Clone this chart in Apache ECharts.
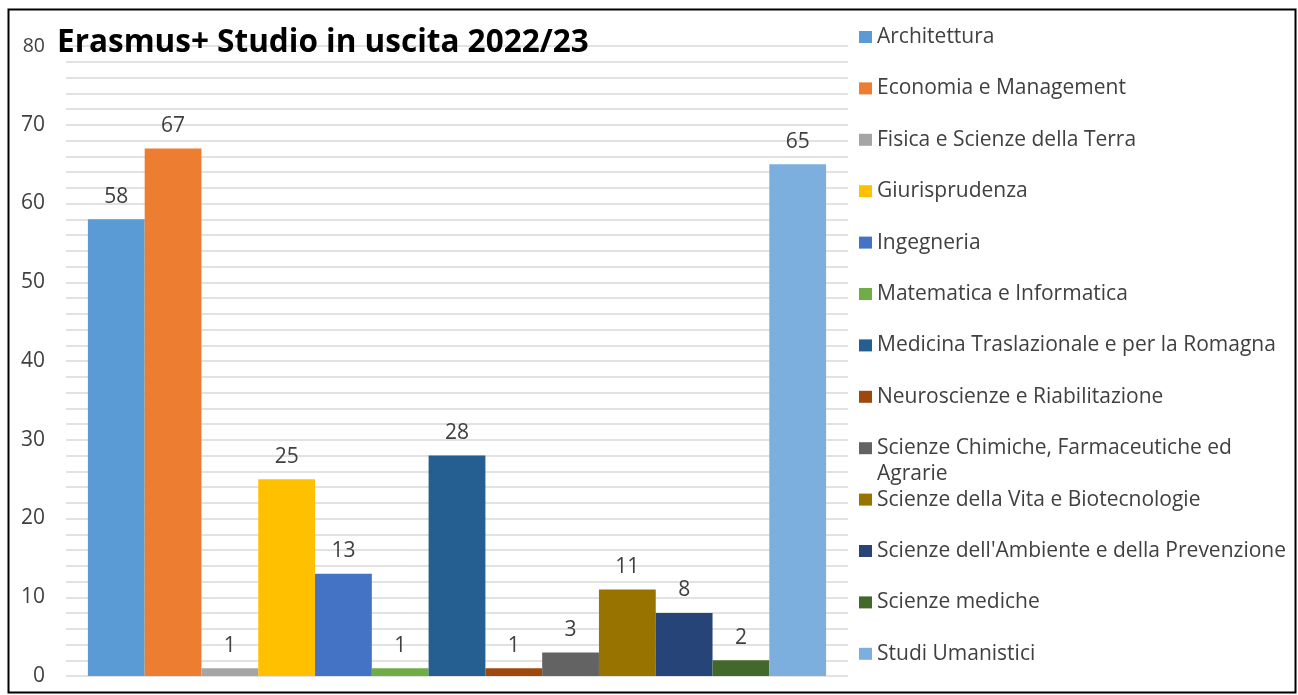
<!DOCTYPE html>
<html>
<head>
<meta charset="utf-8">
<style>
  html, body { margin: 0; padding: 0; background: #fff; }
  #container { width: 1298px; height: 695px; }
</style>
<script src="https://cdn.jsdelivr.net/npm/echarts@6/dist/echarts.min.js"></script>
</head>
<body>
<div id="container"></div>
<script>
var dipartimenti = [
  'Architettura',
  'Economia e Management',
  'Fisica e Scienze della Terra',
  'Giurisprudenza',
  'Ingegneria',
  'Matematica e Informatica',
  'Medicina Traslazionale e per la Romagna',
  'Neuroscienze e Riabilitazione',
  'Scienze Chimiche, Farmaceutiche ed Agrarie',
  'Scienze della Vita e Biotecnologie',
  "Scienze dell'Ambiente e della Prevenzione",
  'Scienze mediche',
  'Studi Umanistici'
];
var studenti = [58, 67, 1, 25, 13, 1, 28, 1, 3, 11, 8, 2, 65];
var colori = [
  '#5B9BD5', '#ED7D31', '#A5A5A5', '#FFC000', '#4472C4', '#70AD47',
  '#255E91', '#9E480E', '#636363', '#997300', '#264478', '#43682B', '#7CAFDD'
];
var yMax = 80;
var yStep = 10;

var dom = document.getElementById('container');
var myChart = echarts.init(dom, null, { renderer: 'canvas' });

var fontFam = '"Open Sans", "Noto Sans", sans-serif';

var series = dipartimenti.map(function (name, i) {
  return {
    name: name,
    type: 'bar',
    barGap: 0,
    barCategoryGap: '5.6%',
    itemStyle: { color: colori[i] },
    label: {
      show: true,
      position: 'top',
      distance: 12,
      color: '#404040',
      fontSize: 21,
      fontFamily: fontFam
    },
    data: [studenti[i]]
  };
});

var option = {
  color: colori,
  animation: false,
  title: {
    text: 'Erasmus+ Studio in uscita 2022/23',
    left: 52,
    top: 22,
    textStyle: {
      fontSize: 31.5,
      fontWeight: 'bold',
      color: '#000',
      fontFamily: fontFam
    }
  },
  legend: {
    orient: 'vertical',
    left: 859,
    top: 26,
    padding: 0,
    itemWidth: 13,
    itemHeight: 12,
    itemGap: 29.4,
    icon: 'rect',
    formatter: function (name) {
      // the long name wraps: its second line is drawn below as a graphic
      if (name.indexOf('Agrarie') >= 0) {
        return 'Scienze Chimiche, Farmaceutiche ed';
      }
      return name;
    },
    textStyle: {
      color: '#404040',
      fontSize: 21,
      fontFamily: fontFam,
      lineHeight: 22
    },
    data: dipartimenti
  },
  grid: {
    left: 66,
    right: 450,
    top: 46,
    bottom: 19,
    containLabel: false
  },
  xAxis: {
    type: 'category',
    data: [''],
    axisLine: { show: false },
    axisTick: { show: false },
    axisLabel: { show: false }
  },
  yAxis: {
    type: 'value',
    min: 0,
    max: yMax,
    interval: yStep,
    axisLine: { show: false },
    axisTick: { show: false },
    axisLabel: {
      margin: 21,
      color: '#404040',
      fontSize: 21,
      fontFamily: fontFam,
      formatter: function (v) {
        return v === yMax ? '{s|' + v + '}' : String(v);
      },
      rich: {
        s: { fontSize: 19.5, color: '#404040', fontFamily: fontFam }
      }
    },
    splitLine: { lineStyle: { color: '#e2e2e2', width: 2 } },
    minorTick: { show: false, splitNumber: 5 },
    minorSplitLine: { show: true, lineStyle: { color: '#e2e2e2', width: 2 } }
  },
  graphic: [
    {
      type: 'rect',
      left: 6,
      top: 7,
      shape: { width: 1287, height: 683 },
      style: { fill: 'none', stroke: '#000', lineWidth: 2 },
      silent: true
    },
    {
      type: 'text',
      left: 877,
      top: 464,
      style: {
        text: 'Agrarie',
        fill: '#404040',
        fontSize: 21,
        fontFamily: fontFam
      },
      silent: true
    }
  ],
  series: series
};

myChart.setOption(option);
window.addEventListener('resize', myChart.resize);
</script>
</body>
</html>
